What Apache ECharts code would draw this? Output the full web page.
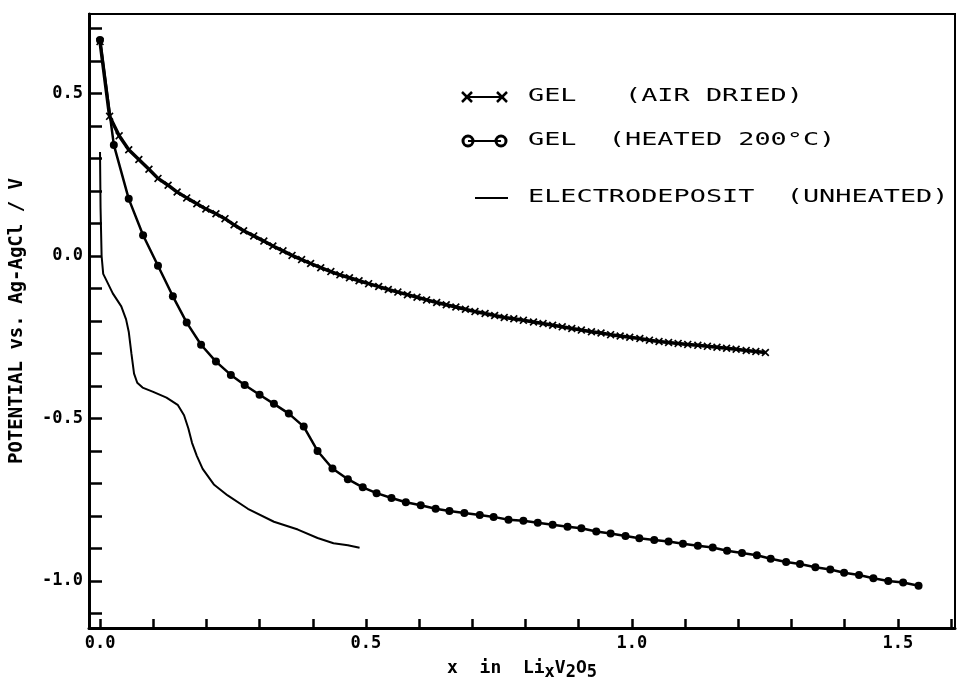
<!DOCTYPE html>
<html>
<head>
<meta charset="utf-8">
<title>Potential vs x in LixV2O5</title>
<script src="https://cdn.jsdelivr.net/npm/echarts@6.0.0/dist/echarts.min.js"></script>
<style>
  html, body { margin: 0; padding: 0; background: #fff; }
  #chart { width: 960px; height: 686px; }
</style>
</head>
<body>
<div id="chart"></div>
<script>
// gel, air dried (x markers)
var airX = [0.000, 0.018, 0.036, 0.054, 0.073, 0.092, 0.109, 0.128, 0.145, 0.163,
  0.182, 0.199, 0.218, 0.235, 0.252, 0.270, 0.289, 0.308, 0.325, 0.344,
  0.361, 0.379, 0.396, 0.415, 0.434, 0.451, 0.469, 0.487, 0.505, 0.524,
  0.542, 0.560, 0.578, 0.596, 0.614, 0.633, 0.651, 0.669, 0.687, 0.705,
  0.724, 0.742, 0.760, 0.778, 0.796, 0.815, 0.833, 0.851, 0.869, 0.887,
  0.905, 0.924, 0.942, 0.960, 0.978, 0.996, 1.015, 1.033, 1.051, 1.069,
  1.087, 1.105, 1.124, 1.142, 1.160, 1.178, 1.196, 1.215, 1.233, 1.251];
var airV = [0.660, 0.430, 0.370, 0.327, 0.297, 0.267, 0.239, 0.218, 0.197, 0.179,
  0.161, 0.145, 0.130, 0.115, 0.096, 0.078, 0.062, 0.046, 0.031, 0.016,
  0.002, -0.011, -0.023, -0.036, -0.048, -0.058, -0.067, -0.076, -0.085, -0.094,
  -0.103, -0.111, -0.119, -0.127, -0.135, -0.143, -0.150, -0.157, -0.164, -0.171,
  -0.177, -0.183, -0.189, -0.193, -0.198, -0.203, -0.208, -0.213, -0.218, -0.223,
  -0.228, -0.233, -0.237, -0.242, -0.246, -0.250, -0.254, -0.259, -0.263, -0.266,
  -0.269, -0.272, -0.275, -0.278, -0.281, -0.284, -0.287, -0.291, -0.294, -0.297];

// gel, heated 200 C (circle markers)
var heatX = [0.000, 0.026, 0.054, 0.081, 0.109, 0.137, 0.163, 0.190, 0.218, 0.246,
  0.272, 0.300, 0.327, 0.355, 0.383, 0.409, 0.437, 0.466, 0.494, 0.520,
  0.548, 0.575, 0.603, 0.631, 0.657, 0.685, 0.714, 0.740, 0.768, 0.796,
  0.823, 0.851, 0.879, 0.905, 0.933, 0.960, 0.988, 1.014, 1.042, 1.069,
  1.096, 1.124, 1.152, 1.179, 1.207, 1.235, 1.261, 1.290, 1.316, 1.345,
  1.373, 1.399, 1.427, 1.454, 1.482, 1.510, 1.539];
var heatV = [0.665, 0.342, 0.176, 0.064, -0.030, -0.124, -0.205, -0.273, -0.325, -0.366,
  -0.397, -0.427, -0.455, -0.485, -0.525, -0.600, -0.654, -0.687, -0.712, -0.730,
  -0.745, -0.758, -0.767, -0.778, -0.785, -0.791, -0.797, -0.803, -0.812, -0.815,
  -0.821, -0.827, -0.833, -0.838, -0.848, -0.854, -0.862, -0.869, -0.874, -0.879,
  -0.886, -0.892, -0.897, -0.907, -0.914, -0.921, -0.932, -0.942, -0.948, -0.958,
  -0.965, -0.975, -0.982, -0.992, -1.000, -1.005, -1.015];

// electrodeposit, unheated (plain line)
var elecX = [0.000, 0.001, 0.003, 0.006, 0.010, 0.024, 0.040, 0.049, 0.054, 0.059,
  0.064, 0.070, 0.080, 0.100, 0.125, 0.146, 0.158, 0.166, 0.173, 0.182,
  0.193, 0.214, 0.240, 0.278, 0.327, 0.372, 0.409, 0.439, 0.466, 0.488];
var elecV = [0.320, 0.150, 0.000, -0.055, -0.068, -0.115, -0.155, -0.195, -0.233, -0.300,
  -0.362, -0.390, -0.405, -0.418, -0.436, -0.458, -0.490, -0.530, -0.575, -0.615,
  -0.655, -0.703, -0.737, -0.778, -0.818, -0.842, -0.868, -0.884, -0.890, -0.898];

// ticks and labels
var xTicks = [0.0, 0.1, 0.2, 0.3, 0.4, 0.5, 0.6, 0.7, 0.8, 0.9, 1.0, 1.1, 1.2, 1.3, 1.4, 1.5, 1.6];
var xLabels = [0.0, 0.5, 1.0, 1.5];
var yTicks = [-1.1, -1.0, -0.9, -0.8, -0.7, -0.6, -0.5, -0.4, -0.3, -0.2, -0.1,
  0.0, 0.1, 0.2, 0.3, 0.4, 0.5, 0.6, 0.7];
var yLabels = [-1.0, -0.5, 0.0, 0.5];

var legendNames = ['GEL   (AIR DRIED)', 'GEL  (HEATED 200°C)', 'ELECTRODEPOSIT  (UNHEATED)'];

function pairs(xs, ys) {
  return xs.map(function (x, i) { return [x, ys[i]]; });
}

var MONO = '"DejaVu Sans Mono", "Liberation Mono", monospace';
var CROSS = 'path://M0,1.5L1.5,0L5,3.5L8.5,0L10,1.5L6.5,5L10,8.5L8.5,10L5,6.5L1.5,10L0,8.5L3.5,5Z';

var chart = echarts.init(document.getElementById('chart'), null, { renderer: 'canvas' });

function legendRow(y, kind, label) {
  var kids = [];
  if (kind === 'cross') {
    kids.push({ type: 'line', shape: { x1: 467, y1: y, x2: 502, y2: y }, style: { stroke: '#000', lineWidth: 2 } });
    [467, 502].forEach(function (cx) {
      kids.push({ type: 'line', shape: { x1: cx - 5, y1: y - 5, x2: cx + 5, y2: y + 5 }, style: { stroke: '#000', lineWidth: 2.5 } });
      kids.push({ type: 'line', shape: { x1: cx - 5, y1: y + 5, x2: cx + 5, y2: y - 5 }, style: { stroke: '#000', lineWidth: 2.5 } });
    });
  } else if (kind === 'circle') {
    [468, 501].forEach(function (cx) {
      kids.push({ type: 'circle', shape: { cx: cx, cy: y, r: 5 }, style: { fill: '#fff', stroke: '#000', lineWidth: 3 } });
    });
    kids.push({ type: 'line', shape: { x1: 468, y1: y, x2: 501, y2: y }, style: { stroke: '#000', lineWidth: 2 } });
  } else {
    kids.push({ type: 'line', shape: { x1: 475, y1: y, x2: 508, y2: y }, style: { stroke: '#000', lineWidth: 2 } });
  }
  kids.push({
    type: 'text', x: 528, y: y, scaleX: 1.58,
    style: { text: label, fill: '#000', font: '17px ' + MONO, verticalAlign: 'middle' }
  });
  return { type: 'group', children: kids };
}

var option = {
  animation: false,
  backgroundColor: '#fff',
  grid: {
    left: 88, right: 5, top: 14, bottom: 48,
    show: true, borderColor: '#000', borderWidth: 2
  },
  xAxis: {
    type: 'value',
    min: -0.0207,
    max: 1.6075,
    splitLine: { show: false },
    axisLine: { onZero: false, lineStyle: { color: '#000', width: 3 } },
    axisTick: { inside: true, length: 9, lineStyle: { color: '#000', width: 2.5 }, customValues: xTicks },
    axisLabel: {
      customValues: xLabels,
      formatter: function (v) { return v.toFixed(1); },
      color: '#000', fontFamily: MONO, fontWeight: 'bold', fontSize: 17, margin: 7
    },
    name: 'x  in  Li{s|x}V{s|2}O{s|5}',
    nameLocation: 'middle',
    nameGap: 28,
    nameTextStyle: {
      color: '#000', fontFamily: MONO, fontWeight: 'bold', fontSize: 18,
      rich: { s: { fontFamily: MONO, fontWeight: 'bold', fontSize: 17, color: '#000', verticalAlign: 'bottom', padding: [8, 0, 0, 0] } }
    }
  },
  yAxis: {
    type: 'value',
    min: -1.145,
    max: 0.745,
    splitLine: { show: false },
    axisLine: { onZero: false, lineStyle: { color: '#000', width: 3 } },
    axisTick: { inside: true, length: 13, lineStyle: { color: '#000', width: 2.5 }, customValues: yTicks },
    axisLabel: {
      customValues: yLabels,
      formatter: function (v) { return v.toFixed(1); },
      color: '#000', fontFamily: MONO, fontWeight: 'bold', fontSize: 17, margin: 6
    },
    name: 'POTENTIAL vs. Ag-AgCl / V',
    nameLocation: 'middle',
    nameRotate: 90,
    nameGap: 62,
    nameTextStyle: { color: '#000', fontFamily: MONO, fontWeight: 'bold', fontSize: 19 }
  },
  series: [
    {
      name: legendNames[0],
      type: 'line',
      data: pairs(airX, airV),
      symbol: CROSS,
      symbolSize: 8,
      showAllSymbol: true,
      lineStyle: { color: '#000', width: 3.5 },
      itemStyle: { color: '#000' }
    },
    {
      name: legendNames[1],
      type: 'line',
      data: pairs(heatX, heatV),
      symbol: 'circle',
      symbolSize: 8,
      showAllSymbol: true,
      lineStyle: { color: '#000', width: 2.5 },
      itemStyle: { color: '#000' }
    },
    {
      name: legendNames[2],
      type: 'line',
      data: pairs(elecX, elecV),
      showSymbol: false,
      lineStyle: { color: '#000', width: 2 }
    }
  ],
  graphic: [
    legendRow(97, 'cross', legendNames[0]),
    legendRow(141, 'circle', legendNames[1]),
    legendRow(198, 'line', legendNames[2])
  ]
};

chart.setOption(option);
</script>
</body>
</html>
